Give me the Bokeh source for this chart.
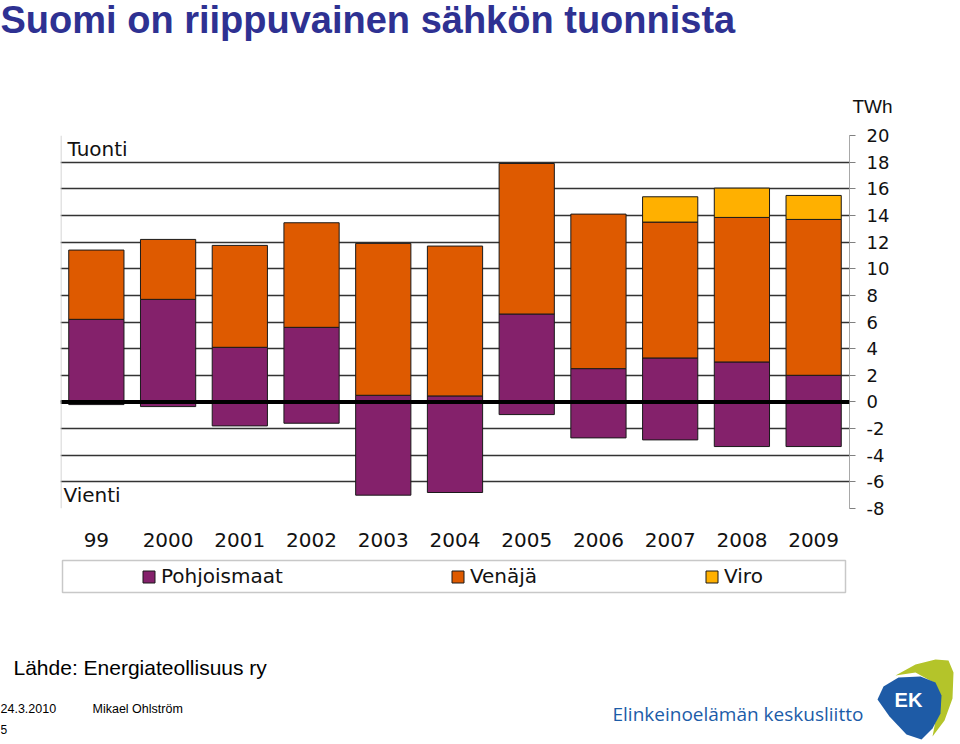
from bokeh.plotting import figure
from bokeh.layouts import column
from bokeh.models import (Range1d, FixedTicker, Span, Label, Legend, LegendItem,
                          ColumnDataSource)
from bokeh.core.properties import value
from bokeh.embed import file_html
from bokeh.resources import INLINE

# ---- data (TWh) ----
years = ["99", "2000", "2001", "2002", "2003", "2004", "2005", "2006", "2007", "2008", "2009"]
pohjoismaat_tuonti = [6.2, 7.7, 4.1, 5.6, 0.5, 0.45, 6.6, 2.5, 3.3, 3.0, 2.0]
pohjoismaat_vienti = [-0.2, -0.35, -1.8, -1.6, -7.0, -6.8, -0.95, -2.7, -2.85, -3.35, -3.35]
venaja = [5.2, 4.5, 7.65, 7.85, 11.4, 11.25, 11.3, 11.6, 10.2, 10.85, 11.7]
viro = [0, 0, 0, 0, 0, 0, 0, 0, 1.9, 2.2, 1.8]
series_names = ["Pohjoismaat", "Venäjä", "Viro"]
y_ticks = [-8, -6, -4, -2, 0, 2, 4, 6, 8, 10, 12, 14, 16, 18, 20]

PURPLE = "#84216B"
ORANGE = "#DE5A00"
YELLOW = "#FFB000"
EDGE = "#1a1a1a"
WIDTH = 956


def blank(h, y0, y1):
    f = figure(width=WIDTH, height=h, x_range=Range1d(0, WIDTH), y_range=Range1d(y1, y0),
               x_axis_location=None, y_axis_location=None, min_border=0,
               output_backend="svg", toolbar_location=None)
    f.grid.visible = False
    f.outline_line_color = None
    f.background_fill_color = "white"
    f.border_fill_color = "white"
    f.frame_align = False
    return f


def txt(f, x, y, t, font="Liberation Sans", size="20px", color="#000000", style="normal",
        align="left"):
    f.text(x=[x], y=[y], text=[t], text_font=value(font), text_font_size=size,
           text_color=color, text_font_style=style, text_baseline="middle", text_align=align)


# ---------------- header (page y 0..120) ----------------
hd = blank(120, 0, 120)
txt(hd, 0, 19, "Suomi on riippuvainen sähkön tuonnista", size="38px", color="#2E3192",
    style="bold")
txt(hd, 852, 106, "TWh", size="19px", color="#111111")

# ---------------- main chart (page y 120..558) ----------------
x_pos = [i + 0.5 for i in range(len(years))]
ven_top = [a + b for a, b in zip(pohjoismaat_tuonti, venaja)]
src = ColumnDataSource(dict(x=x_pos, pt=pohjoismaat_tuonti, pv=pohjoismaat_vienti,
                            ven_top=ven_top))
vi_idx = [i for i, v in enumerate(viro) if v > 0]
src_viro = ColumnDataSource(dict(x=[x_pos[i] for i in vi_idx],
                                 bottom=[ven_top[i] for i in vi_idx],
                                 top=[ven_top[i] + viro[i] for i in vi_idx]))

p = figure(width=WIDTH, height=438, x_range=Range1d(0, len(years)), y_range=Range1d(-8, 20),
           y_axis_location="right", output_backend="svg", toolbar_location=None,
           min_border_left=60, min_border_right=WIDTH - 849, min_border_top=15,
           min_border_bottom=50)
p.frame_align = False
p.extra_x_ranges = {"page": Range1d(60, 849)}
p.extra_y_ranges = {"page": Range1d(508, 135)}
p.background_fill_color = "white"
p.border_fill_color = "white"
p.outline_line_color = None

p.xgrid.visible = False
p.ygrid.ticker = FixedTicker(ticks=y_ticks)
p.ygrid.grid_line_color = "#333333"
p.ygrid.grid_line_width = 1.4

p.yaxis.ticker = FixedTicker(ticks=y_ticks)
p.yaxis.major_label_overrides = {t: str(t) for t in y_ticks}
p.yaxis.axis_line_color = "#a8a8a8"
p.yaxis.major_tick_line_color = "#808080"
p.yaxis.major_tick_out = 6
p.yaxis.major_tick_in = 0
p.yaxis.minor_tick_line_color = None
p.yaxis.major_label_standoff = 11
p.yaxis.major_label_text_font = "DejaVu Sans"
p.yaxis.major_label_text_font_size = "18px"
p.yaxis.major_label_text_color = "#111111"

p.xaxis.ticker = FixedTicker(ticks=x_pos)
p.xaxis.major_label_overrides = {x: y for x, y in zip(x_pos, years)}
p.xaxis.axis_line_color = None
p.xaxis.major_tick_line_color = None
p.xaxis.minor_tick_line_color = None
p.xaxis.major_label_standoff = 18
p.xaxis.major_label_text_font = "DejaVu Sans"
p.xaxis.major_label_text_font_size = "20px"
p.xaxis.major_label_text_color = "#111111"

W = 0.77
p.vbar(x="x", bottom="pv", top=0, width=W, source=src,
       fill_color=PURPLE, line_color=EDGE, line_width=1)
p.vbar(x="x", bottom=0, top="pt", width=W, source=src,
       fill_color=PURPLE, line_color=EDGE, line_width=1)
p.vbar(x="x", bottom="pt", top="ven_top", width=W, source=src,
       fill_color=ORANGE, line_color=EDGE, line_width=1)
p.vbar(x="x", bottom="bottom", top="top", width=W, source=src_viro,
       fill_color=YELLOW, line_color=EDGE, line_width=1)

p.add_layout(Span(location=0, dimension="width", line_color="black", line_width=4))
p.add_layout(Span(location=60.5, dimension="height", x_range_name="page",
                  line_color="#c8c8c8", line_width=1))
for (lx, ly, lt) in [(67, 148, "Tuonti"), (63, 494, "Vienti")]:
    p.add_layout(Label(x=lx, y=ly, text=lt, x_range_name="page", y_range_name="page",
                       text_font="DejaVu Sans", text_font_size="20px", text_color="#111111",
                       text_baseline="middle", text_align="left"))

# ---------------- bottom (page y 558..740) ----------------
bt = blank(740 - 558, 558, 740)
# legend frame
bt.quad(left=[62], right=[845], top=[560], bottom=[592], fill_alpha=0,
        line_color="#c8c8c8", line_width=1.5)
nan = float("nan")
proxies = [bt.vbar(x=[nan], top=[nan], width=1, fill_color=c, line_color=EDGE)
           for c in (PURPLE, ORANGE, YELLOW)]
legend = Legend(items=[LegendItem(label=n, renderers=[r]) for n, r in zip(series_names, proxies)],
                orientation="horizontal", location=(141, 152), spacing=167, padding=0,
                margin=0, glyph_width=15, glyph_height=15, label_standoff=5,
                label_text_font="DejaVu Sans", label_text_font_size="20px",
                label_text_color="#111111", border_line_alpha=0, background_fill_alpha=0)
bt.add_layout(legend)

txt(bt, 13, 667, "Lähde: Energiateollisuus ry", size="21px")
txt(bt, 0, 708, "24.3.2010", size="12.5px")
txt(bt, 92, 708, "Mikael Ohlström", size="12.5px")
txt(bt, 0, 729, "5", size="12px")
txt(bt, 612, 713, "Elinkeinoelämän keskusliitto", font="Open Sans", size="19px",
    color="#1C5CA8")

# logo
bt.patch(x=[895, 915, 935, 948, 953, 952, 944, 932, 938, 935, 915],
         y=[675, 664, 659, 660, 672, 698, 720, 736, 705, 683, 672],
         fill_color="#B4C42A", line_color=None)
bt.patch(x=[877, 883, 898, 920, 935, 941, 940, 932, 921, 906, 889],
         y=[699, 686, 677, 676, 682, 695, 713, 728, 739, 734, 716],
         fill_color="#1E5BA6", line_color=None)
txt(bt, 908, 699, "EK", size="20px", color="white", style="bold", align="center")

layout = column(hd, p, bt, spacing=0)
open("out.html", "w").write(file_html(layout, INLINE))
